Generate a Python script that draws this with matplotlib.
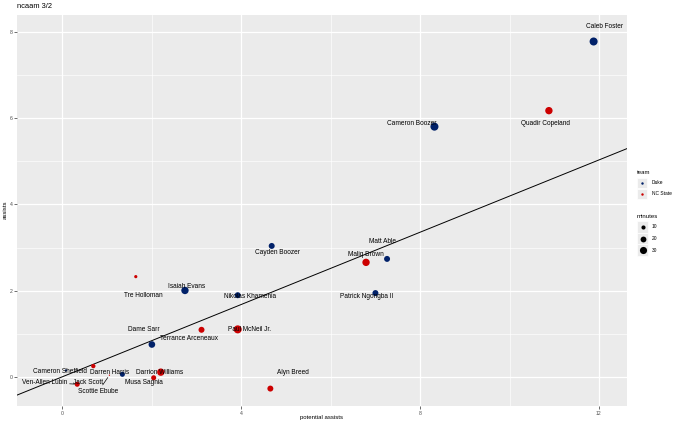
import matplotlib
matplotlib.use("Agg")
import matplotlib.pyplot as plt
from matplotlib.patches import Rectangle
import numpy as np

plt.rcParams['font.family'] = ['Liberation Sans', 'DejaVu Sans']

# ---------------- data ----------------
players = ["Caleb Foster", "Quadir Copeland", "Cameron Boozer", "Cayden Boozer",
           "Matt Able", "Maliq Brown", "Patrick Ngongba II", "Isaiah Evans",
           "Nikolas Khamenia", "Tre Holloman", "Paul McNeil Jr.", "Dame Sarr",
           "Terrance Arceneaux", "Alyn Breed", "Cameron Sheffield", "Darren Harris",
           "Darrion Williams", "Musa Sagnia", "Jack Scott", "Ven-Allen Lubin",
           "Scottie Ebube"]
potential_assists = [11.88, 10.88, 8.32, 4.68, 7.26, 6.79, 7.00, 2.74, 3.92, 1.64,
                     3.92, 2.00, 3.11, 4.65, 0.08, 1.34, 2.20, 2.04, 0.69, 0.33, 1.05]
assists = [7.77, 6.17, 5.80, 3.04, 2.74, 2.66, 1.95, 2.01, 1.90, 2.33,
           1.11, 0.76, 1.10, -0.26, 0.16, 0.07, 0.12, -0.01, 0.26, -0.16, 0.05]
team = ["Duke", "NC State", "Duke", "Duke", "Duke", "NC State", "Duke", "Duke",
        "Duke", "NC State", "NC State", "Duke", "NC State", "NC State", "Duke", "Duke",
        "NC State", "NC State", "NC State", "NC State", "NC State"]
minutes = [38, 32, 38, 21, 21, 32, 21, 32, 21, 6, 38, 26, 21, 21, 3, 15, 32, 15, 11, 15, 1]

fit_intercept = 0.014
fit_slope = 0.418

x_ticks = [0, 4, 8, 12]
y_ticks = [0, 2, 4, 6, 8]
teams = ["Duke", "NC State"]
legend_minutes = [10, 20, 30]

# ---------------- layout / style ----------------
team_colors = {"Duke": "#012169", "NC State": "#CC0000"}
# label offsets in pixels (dx right, dy up) relative to each point
label_offsets = [(11, 15), (-3, -13), (-23, 3), (6, -7), (-5, 17), (0, 8), (-9, -3),
                 (2, 4), (12, -1), (8, -19), (12, 0), (-8, 15), (-13, -9), (23, 16),
                 (-6, -1), (-13, 2), (-1, 0), (-10, -5), (-5, -16), (-33, 2), (-11, -16)]
segment_labels = {"Ven-Allen Lubin", "Scottie Ebube"}

W, H = 680, 426
fig = plt.figure(figsize=(W / 100, H / 100), dpi=100)
fig.patch.set_facecolor("white")
L, R, T, B = 17.3, 626.7, 14.7, 406.3
ax = fig.add_axes([L / W, 1 - B / H, (R - L) / W, (B - T) / H])
ax.set_facecolor("#EBEBEB")
ax.set_xlim(-1.01, 12.62)
ax.set_ylim(-0.67, 8.39)
for s in ax.spines.values():
    s.set_visible(False)

# grid
ax.set_xticks(x_ticks)
ax.set_yticks(y_ticks)
ax.set_xticks([2, 6, 10], minor=True)
ax.set_yticks([1, 3, 5, 7], minor=True)
ax.grid(True, which="major", color="white", linewidth=0.9)
ax.grid(True, which="minor", color="white", linewidth=0.45)
ax.set_axisbelow(True)
ax.tick_params(which="major", length=2, width=0.5, color="#333333",
               labelsize=3.7, labelcolor="#4D4D4D", pad=1.5)
ax.tick_params(which="minor", length=0)

# regression line
xl = np.array(ax.get_xlim())
ax.plot(xl, fit_intercept + fit_slope * xl, color="black", linewidth=0.7, zorder=2)

def size_of(m):
    return 0.88 * np.asarray(m, dtype=float)

cols = [team_colors[t] for t in team]
ax.scatter(potential_assists, assists, s=size_of(minutes), c=cols, linewidths=0,
           zorder=3)

for name, x, y, (dx, dy) in zip(players, potential_assists, assists, label_offsets):
    kw = {}
    if name in segment_labels:
        kw["arrowprops"] = dict(arrowstyle="-", color="black", lw=0.5,
                                shrinkA=0, shrinkB=2)
    ax.annotate(name, (x, y), xytext=(dx, dy), textcoords="offset pixels",
                ha="center", va="center", fontsize=4.7, color="black", zorder=4, **kw)

# axis titles and title
fig.text(322 / W, 1 - 418 / H, "potential assists", ha="center", va="center",
         fontsize=4.3, color="black")
fig.text(5 / W, 1 - 210 / H, "assists", ha="center", va="center", rotation=90,
         fontsize=4.3, color="black")
fig.text(17 / W, 1 - 7 / H, "ncaam 3/2", ha="left", va="center",
         fontsize=5.4, color="black")

# legend (overlay axes in pixel coordinates)
lg = fig.add_axes([0, 0, 1, 1], facecolor="none")
lg.set_xlim(0, W)
lg.set_ylim(H, 0)
lg.axis("off")
lg.text(637, 172, "team", ha="left", va="center", fontsize=4.3)
for i, t in enumerate(teams):
    yc = 182.5 + 11 * i
    lg.add_patch(Rectangle((637, yc - 5), 10, 10, facecolor="#EBEBEB", edgecolor="white",
                           linewidth=0.5))
    lg.scatter([642], [yc], s=size_of(3.5), c=team_colors[t], linewidths=0)
    lg.text(651.5, yc, t, ha="left", va="center", fontsize=3.5)
lg.text(637, 216, "minutes", ha="left", va="center", fontsize=4.3)
for i, m in enumerate(legend_minutes):
    yc = 227 + 11.5 * i
    lg.add_patch(Rectangle((637, yc - 5.75), 11, 11.5, facecolor="#EBEBEB",
                           edgecolor="white", linewidth=0.5))
    lg.scatter([642.5], [yc], s=size_of(m), c="black", linewidths=0)
    lg.text(651.5, yc, str(m), ha="left", va="center", fontsize=3.5)

fig.savefig("out.png", dpi=100)
